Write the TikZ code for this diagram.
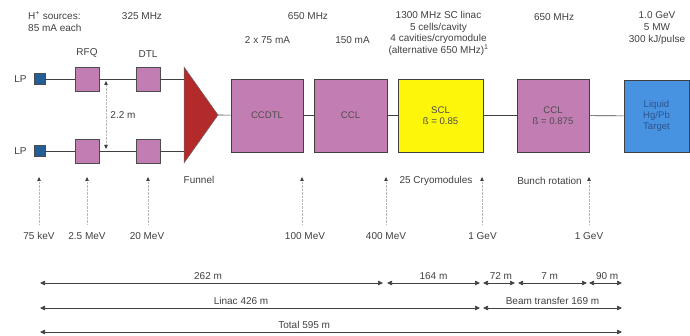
\documentclass[tikz,border=0pt]{standalone}
\usepackage{fontspec}
\setmainfont{Liberation Sans}
\usetikzlibrary{arrows.meta,positioning}

\definecolor{lpblue}{RGB}{35,95,150}
\definecolor{mauve}{RGB}{194,126,178}
\definecolor{sclyellow}{RGB}{252,246,10}
\definecolor{targetblue}{RGB}{72,146,226}
\definecolor{targettext}{RGB}{45,85,140}
\definecolor{funnelred}{RGB}{178,42,42}

\begin{document}
\begin{tikzpicture}[
x=1pt, y=-1pt,
font=\fontsize{10}{11.6}\selectfont,
lbl/.style={inner sep=1pt, align=center, text=black!75},
srcbox/.style={draw=black!70, fill=lpblue, line width=0.6pt, minimum size=11pt, inner sep=0pt},
cellbox/.style={draw=black!70, fill=mauve, line width=0.7pt, minimum size=24pt, inner sep=0pt},
cavity/.style={draw=black!75, fill=mauve, line width=0.8pt, minimum width=72pt, minimum height=73pt, inner sep=1pt, align=center, text=black!70, font=\fontsize{9.6}{11.2}\selectfont},
beamline/.style={draw=black!75, line width=0.6pt},
marker/.style={densely dotted, draw=black!28, line width=0.4pt, -{Triangle[length=4pt, width=3.5pt, color=black!75]}},
twinmarker/.style={densely dotted, draw=black!28, line width=0.4pt, {Triangle[length=4pt, width=3.5pt, color=black!75]}-{Triangle[length=4pt, width=3.5pt, color=black!75]}},
dimline/.style={draw=black!75, line width=0.7pt, {Triangle[length=5pt, width=4.5pt]}-{Triangle[length=5pt, width=4.5pt]}},
dimlbl/.style={lbl, above=2pt}
]
\useasboundingbox (0,0) rectangle (690,336);

% top notes
\node[lbl, align=left, anchor=west] (src) at (27,21.5) {H\textsuperscript{+} sources:\\85 mA each};
\node[lbl] (f325) at (142,16) {325 MHz};
\node[lbl] (f650a) at (308,16) {650 MHz};
\node[lbl] (cur2x) at (267.5,40) {2 x 75 mA};
\node[lbl] (cur150) at (352.5,40) {150 mA};
\node[lbl] (scinfo) at (438.5,33.5) {1300 MHz SC linac\\5 cells/cavity\\4 cavities/cryomodule\\(alternative 650 MHz)\textsuperscript{1}};
\node[lbl] (f650b) at (554,17) {650 MHz};
\node[lbl] (beam) at (657,28) {1.0 GeV\\5 MW\\300 kJ/pulse};

% two injector lines
\node[srcbox] (lp1) at (39.5,79) {};
\node[srcbox] (lp2) at (39.5,151) {};
\node[lbl, left=6pt of lp1] (lptxt1) {LP};
\node[lbl, left=6pt of lp2] (lptxt2) {LP};
\node[cellbox] (rfq1) at (87,79) {};
\node[cellbox] (rfq2) at (87,151) {};
\node[cellbox] (dtl1) at (148,79) {};
\node[cellbox] (dtl2) at (148,151) {};
\node[lbl, above=8pt of rfq1] (rfqtxt) {RFQ};
\node[lbl, above=8pt of dtl1] (dtltxt) {DTL};

% funnel
\coordinate (fnt) at (184,67);
\coordinate (fnb) at (184,163);
\coordinate (fna) at (218,115);
\fill[funnelred, draw=black!60, line width=0.5pt] (fnt) -- (fna) -- (fnb) -- cycle;
\node[lbl] (funtxt) at (199,180) {Funnel};

% main linac
\node[cavity] (ccdtl) at (267,115.5) {CCDTL};
\node[cavity, minimum width=73pt] (ccl) at (350.5,115.5) {CCL};
\node[cavity, fill=sclyellow, minimum width=85pt] (scl) at (440.5,115.5) {SCL\\ß = 0.85};
\node[cavity] (ccl2) at (553,115.5) {CCL\\ß = 0.875};
\node[cavity, fill=targetblue, text=targettext, minimum width=65pt, minimum height=72pt] (target) at (656.5,116) {Liquid\\Hg/Pb\\Target};

\draw[beamline] (lp1) -- (rfq1);
\draw[beamline] (rfq1) -- (dtl1);
\draw[beamline] (dtl1) -- (dtl1 -| fnt);
\draw[beamline] (lp2) -- (rfq2);
\draw[beamline] (rfq2) -- (dtl2);
\draw[beamline] (dtl2) -- (dtl2 -| fnt);
\draw[beamline] (fna) -- (ccdtl);
\draw[beamline] (ccdtl) -- (ccl);
\draw[beamline] (ccl) -- (scl);
\draw[beamline] (scl) -- (ccl2);
\draw[beamline] (ccl2) -- (target);

% line spacing
\coordinate (sp1) at (106,81);
\coordinate (sp2) at (106,149);
\draw[twinmarker] (sp1) -- (sp2);
\node[lbl] (sptxt) at (123,115) {2.2 m};

% energies
\node[lbl] (e75) at (39,236) {75 keV};
\node[lbl] (e25) at (87,236) {2.5 MeV};
\node[lbl] (e20) at (147,236) {20 MeV};
\node[lbl] (e100) at (305,236) {100 MeV};
\node[lbl] (e400) at (386,236) {400 MeV};
\node[lbl] (e1a) at (482.5,236) {1 GeV};
\node[lbl] (e1b) at (589,236) {1 GeV};
\coordinate (t75) at (39,177);
\coordinate (t25) at (87,177);
\coordinate (t20) at (148,177);
\coordinate (t100) at (302,177);
\coordinate (t400) at (386,177);
\coordinate (t1a) at (482,177);
\coordinate (t1b) at (589,177);
\draw[marker, shorten <=7pt] (e75.north -| t75) -- (t75);
\draw[marker, shorten <=7pt] (e25.north -| t25) -- (t25);
\draw[marker, shorten <=7pt] (e20.north -| t20) -- (t20);
\draw[marker, shorten <=7pt] (e100.north -| t100) -- (t100);
\draw[marker, shorten <=7pt] (e400.north -| t400) -- (t400);
\draw[marker, shorten <=7pt] (e1a.north -| t1a) -- (t1a);
\draw[marker, shorten <=7pt] (e1b.north -| t1b) -- (t1b);
\node[lbl] (cryo) at (436,181) {25 Cryomodules};
\node[lbl] (bunch) at (549.5,181) {Bunch rotation};

% lengths
\coordinate (r1a) at (40,283);
\coordinate (r1b) at (383,283);
\coordinate (r1c) at (387,283);
\coordinate (r1d) at (480,283);
\coordinate (r1e) at (483,283);
\coordinate (r1f) at (515,283);
\coordinate (r1g) at (518,283);
\coordinate (r1h) at (587,283);
\coordinate (r1i) at (589,283);
\coordinate (r1j) at (622,283);
\coordinate (r2a) at (40,308);
\coordinate (r2b) at (480,308);
\coordinate (r2c) at (483,308);
\coordinate (r2d) at (622,308);
\coordinate (r3a) at (40,332);
\coordinate (r3b) at (622,332);
\draw[dimline] (r1a) -- node[dimlbl, pos=0.49] (l262) {262 m} (r1b);
\draw[dimline] (r1c) -- node[dimlbl, pos=0.5] (l164) {164 m} (r1d);
\draw[dimline] (r1e) -- node[dimlbl, pos=0.56] (l72) {72 m} (r1f);
\draw[dimline] (r1g) -- node[dimlbl, pos=0.46] (l7) {7 m} (r1h);
\draw[dimline] (r1i) -- node[dimlbl, pos=0.55] (l90) {90 m} (r1j);
\draw[dimline] (r2a) -- node[dimlbl, pos=0.457] (llinac) {Linac 426 m} (r2b);
\draw[dimline] (r2c) -- node[dimlbl, pos=0.5] (ltransfer) {Beam transfer 169 m} (r2d);
\draw[dimline] (r3a) -- node[dimlbl, pos=0.454] (ltotal) {Total 595 m} (r3b);
\end{tikzpicture}
\end{document}
